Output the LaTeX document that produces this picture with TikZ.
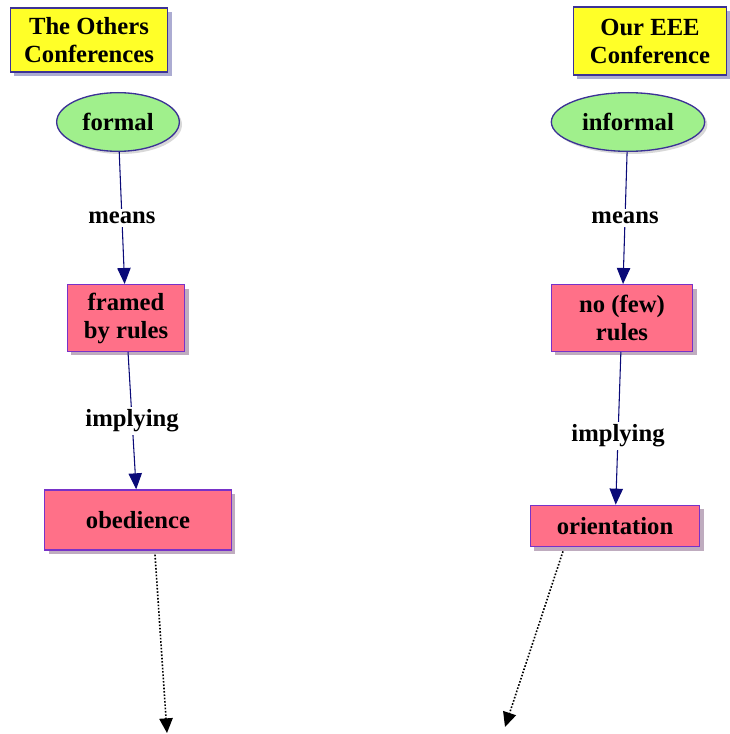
\documentclass[tikz,border=0pt]{standalone}
\usepackage{fontspec}
\setmainfont{Liberation Serif}
\usetikzlibrary{shapes.geometric,shadows,arrows.meta}
\definecolor{boxyellow}{RGB}{255,255,40}
\definecolor{boxpink}{RGB}{255,112,136}
\definecolor{ovalgreen}{RGB}{160,240,140}
\definecolor{rimblue}{RGB}{60,50,150}
\definecolor{rimpurple}{RGB}{120,50,200}
\definecolor{linknavy}{RGB}{10,10,120}
\begin{document}
\begin{tikzpicture}[x=0.75pt,y=-0.75pt, font=\bfseries\fontsize{18.5}{21}\selectfont,
  title/.style={draw=rimblue, line width=1pt, fill=boxyellow, align=center, inner sep=2pt,
    drop shadow={shadow xshift=3pt, shadow yshift=-3pt, fill=gray!70!blue}},
  oval/.style={ellipse, draw=rimblue, line width=1pt, fill=ovalgreen, inner sep=1pt,
    drop shadow={shadow xshift=2pt, shadow yshift=-2pt, fill=gray!60}},
  concept/.style={draw=rimpurple, line width=1pt, fill=boxpink, align=center, inner sep=2pt,
    drop shadow={shadow xshift=3pt, shadow yshift=-3pt, fill=gray!70!violet}},
  link/.style={draw=linknavy, line width=0.8pt, -{Triangle[length=12pt,width=10pt]}},
  linklabel/.style={fill=white, inner sep=2pt},
  hint/.style={draw=black, line width=1.2pt, dash pattern=on 1.2pt off 1.3pt,
    -{Triangle[length=11pt,width=10pt]}}]
\useasboundingbox (0,0) rectangle (729,734);
% left column
\node[title, minimum width=118pt, minimum height=48pt] (others) at (89,40) {The Others\\Conferences};
\node[oval, minimum width=92pt, minimum height=44pt] (formal) at (118,122) {formal};
\node[concept, minimum width=88pt, minimum height=50pt] (framed) at (126,318) {framed\\by rules};
\node[concept, minimum width=140pt, minimum height=45pt] (obed) at (138,520) {obedience};
% right column
\node[title, minimum width=115pt, minimum height=51pt] (ours) at (650,41) {Our EEE\\Conference};
\node[oval, minimum width=115pt, minimum height=44pt] (informal) at (628,122) {informal};
\node[concept, minimum width=106pt, minimum height=50pt] (fewrules) at (622,318) {no (few)\\rules};
\node[concept, minimum width=127pt, minimum height=31pt] (orient) at (615,526) {orientation};
% links
\draw[link] (formal) -- node[linklabel, pos=0.5] {means} (framed);
\draw[link] (informal) -- node[linklabel, pos=0.5] {means} (fewrules);
\draw[link] (framed) -- node[linklabel, pos=0.5] {implying} (obed);
\draw[link] (fewrules) -- node[linklabel, pos=0.55] {implying} (orient);
% dotted ends
\coordinate (endL) at (167,733);
\coordinate (endR) at (505,727);
\draw[hint] (obed.south) ++(17,4) coordinate (startL) -- (endL);
\draw[hint] (orient.south) ++(-52,4) coordinate (startR) -- (endR);
\end{tikzpicture}
\end{document}
